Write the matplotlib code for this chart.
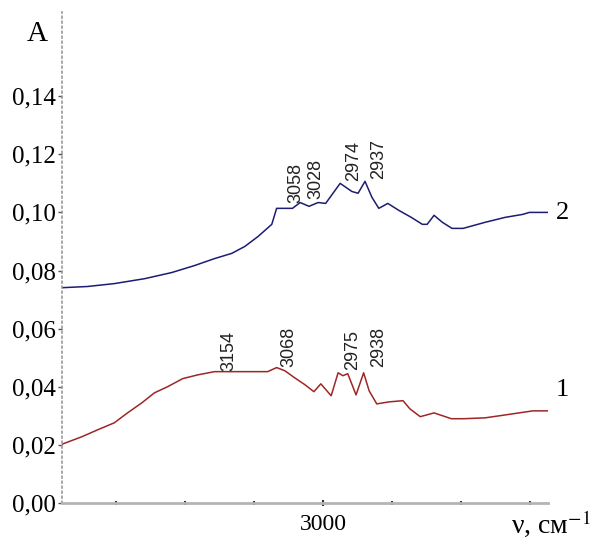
import numpy as np
import matplotlib.pyplot as plt

plt.rcParams['font.family'] = ['Liberation Serif', 'DejaVu Serif']
plt.rcParams['mathtext.fontset'] = 'stix'

# spectrum 2 (upper, blue)
nu_2 = [3377, 3341, 3302, 3258, 3219, 3186, 3157, 3132, 3113, 3094, 3074, 3067,
        3044, 3033, 3020, 3007, 2996, 2975, 2958, 2949, 2939, 2929, 2919, 2906,
        2890, 2872, 2856, 2849, 2839, 2827, 2813, 2797, 2765, 2736, 2711, 2701, 2675]
a_2 = [0.0741, 0.0745, 0.0755, 0.0772, 0.0793, 0.0817, 0.0841, 0.0859, 0.0883,
       0.0917, 0.0959, 0.1014, 0.1014, 0.1034, 0.1021, 0.1034, 0.1031, 0.1100,
       0.1072, 0.1066, 0.1107, 0.1052, 0.1014, 0.1031, 0.1007, 0.0983, 0.0959,
       0.0959, 0.0990, 0.0966, 0.0945, 0.0945, 0.0966, 0.0983, 0.0993, 0.1000, 0.1000]

# spectrum 1 (lower, red)
nu_1 = [3377, 3349, 3326, 3302, 3283, 3262, 3244, 3225, 3203, 3181, 3157, 3128,
        3099, 3080, 3067, 3055, 3041, 3026, 3013, 3003, 2988, 2978, 2971, 2964,
        2952, 2941, 2933, 2922, 2904, 2884, 2874, 2859, 2839, 2814, 2796, 2765,
        2736, 2696, 2675]
a_1 = [0.0203, 0.0228, 0.0252, 0.0276, 0.0310, 0.0345, 0.0379, 0.0400, 0.0428,
       0.0441, 0.0452, 0.0452, 0.0452, 0.0452, 0.0466, 0.0455, 0.0431, 0.0407,
       0.0383, 0.0410, 0.0369, 0.0448, 0.0438, 0.0445, 0.0372, 0.0448, 0.0386,
       0.0341, 0.0348, 0.0352, 0.0324, 0.0297, 0.0310, 0.0290, 0.0290, 0.0293,
       0.0303, 0.0317, 0.0317]

# band labels: wavenumber, height of label base
peaks_2 = [3058, 3028, 2974, 2937]
peak_y_2 = [0.1034, 0.1045, 0.1107, 0.1114]
peaks_1 = [3154, 3068, 2975, 2938]
peak_y_1 = [0.0455, 0.0469, 0.0459, 0.0469]

yticks = [0.00, 0.02, 0.04, 0.06, 0.08, 0.10, 0.12, 0.14]
ytick_labels = ['0,00', '0,02', '0,04', '0,06', '0,08', '0,10', '0,12', '0,14']

fig = plt.figure(figsize=(5.95, 5.42), dpi=100)
ax = fig.add_axes([0.104, 0.072, 0.817, 0.906])

ax.plot(nu_2, a_2, color='#1c1c72', lw=1.1)
ax.plot(nu_1, a_1, color='#9e2626', lw=1.1)

for nu, y in zip(peaks_2, peak_y_2):
    ax.annotate(str(nu), (nu, y), xytext=(3, 0), textcoords='offset points',
                rotation=90, ha='left', va='bottom', fontsize=13,
                family=['Liberation Sans', 'DejaVu Sans'], color='#222222')
for nu, y in zip(peaks_1, peak_y_1):
    ax.annotate(str(nu), (nu, y), xytext=(3, 0), textcoords='offset points',
                rotation=90, ha='left', va='bottom', fontsize=13,
                family=['Liberation Sans', 'DejaVu Sans'], color='#222222')

ax.set_xlim(3378, 2674)
ax.set_ylim(0, 0.169)

ax.set_yticks(yticks)
ax.set_yticklabels(ytick_labels, fontsize=18)
ax.set_xticks([3000])
ax.set_xticklabels(['3000'], fontsize=17)
ax.set_xticks(np.arange(3300, 2650, -100), minor=True)

ax.tick_params(axis='y', which='major', direction='out', length=3, width=1,
               color='#555555', pad=1)
ax.tick_params(axis='x', which='major', direction='inout', length=4, width=1.5,
               color='#333333', pad=6)
ax.tick_params(axis='x', which='minor', direction='inout', length=3, width=1.5,
               color='#333333')

for side in ['top', 'right']:
    ax.spines[side].set_visible(False)
ax.spines['left'].set_color('#9a9a9a')
ax.spines['left'].set_linestyle((0, (1, 2)))
ax.spines['left'].set_linewidth(1.2)
ax.spines['bottom'].set_color('#b4b4b4')
ax.spines['bottom'].set_linewidth(2)

fig.text(0.062, 0.937, 'A', fontsize=21, ha='center', va='center')
fig.text(0.945, 0.607, '2', fontsize=19, ha='center', va='center')
fig.text(0.945, 0.280, '1', fontsize=19, ha='center', va='center')
fig.text(0.993, 0.006, 'ν, см$^{-1}$', fontsize=20, ha='right', va='bottom')

fig.savefig('out.png', dpi=100)
